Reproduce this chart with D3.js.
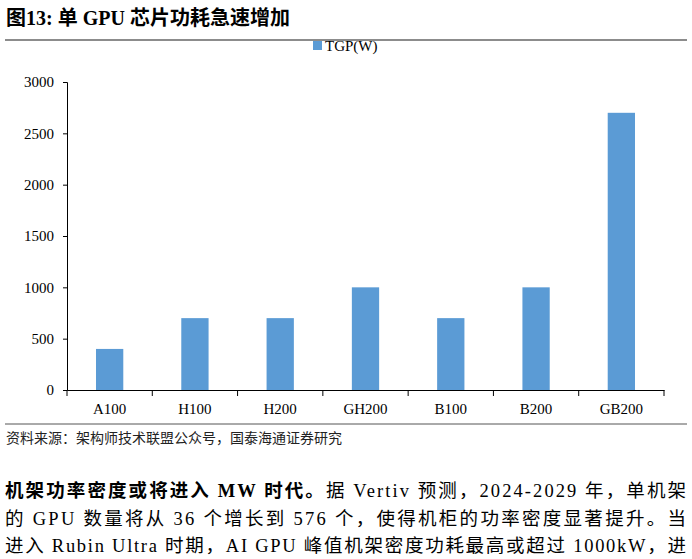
<!DOCTYPE html><html><head><meta charset="utf-8"><script src="https://cdn.jsdelivr.net/npm/d3@7"></script>
<style>body{margin:0;background:#fff}</style></head><body><svg id="c" width="692" height="559"></svg>
<script>
const categories=["A100","H100","H200","GH200","B100","B200","GB200"];
const values=[400,700,700,1000,700,1000,2700];
const yTicks=[0,500,1000,1500,2000,2500,3000];
const serif="Liberation Serif, Tinos, Times New Roman, DejaVu Serif, serif";
const cjk="Noto Sans CJK SC, sans-serif";
const svg=d3.select("#c");
svg.append("text").attr("x",6).attr("y",25).attr("font-size",20).attr("font-weight","bold").style("font-family",serif+", "+cjk).text("图13:  单 GPU 芯片功耗急速增加");
svg.append("line").attr("x1",5).attr("x2",687).attr("y1",40).attr("y2",40).attr("stroke","#8c8c8c").attr("stroke-width",2);
const x=d3.scaleBand().domain(categories).range([67,664]).paddingInner(0.68).paddingOuter(0.34);
const y=d3.scaleLinear().domain([0,3000]).range([390,82]);
svg.selectAll("rect.b").data(values).join("rect").attr("x",(d,i)=>x(categories[i])).attr("width",x.bandwidth()).attr("y",d=>y(d)).attr("height",d=>390-y(d)).attr("fill","#5b9bd5");
const ya=svg.append("g").attr("transform","translate(67,0)").call(d3.axisLeft(y).tickValues(yTicks).tickSize(4).tickFormat(d3.format("d")));
const xa=svg.append("g").attr("transform","translate(0,390)").call(d3.axisBottom(x).tickSize(0).tickPadding(13));
const xt=d3.scaleLinear().domain([0,7]).range([67,664]);
svg.selectAll("line.t").data(d3.range(8)).join("line").attr("x1",d=>xt(d)).attr("x2",d=>xt(d)).attr("y1",390).attr("y2",396).attr("stroke","#000");
[ya,xa].forEach(g=>{g.attr("font-family",null);g.selectAll("text").style("font-family",serif).attr("font-size",15).attr("fill","#000");g.select(".domain").attr("stroke","#000");g.selectAll("line").attr("stroke","#000");});
ya.selectAll("text").attr("dx",-6);
svg.append("rect").attr("x",313).attr("y",41).attr("width",9).attr("height",9).attr("fill","#5b9bd5");
svg.append("text").attr("x",325).attr("y",51).style("font-family",serif).attr("font-size",15).text("TGP(W)");
svg.append("line").attr("x1",5).attr("x2",687).attr("y1",424).attr("y2",424).attr("stroke","#555").attr("stroke-width",1);
svg.append("text").attr("x",6).attr("y",443).style("font-family",cjk).attr("font-size",14).attr("fill","#222").text("资料来源：架构师技术联盟公众号，国泰海通证券研究");
const lines=[
 [{t:"机架功率密度或将进入 MW 时代。",b:1},{t:"据 Vertiv 预测，2024-2029 年，单机架"}],
 [{t:"的 GPU 数量将从 36 个增长到 576 个，使得机柜的功率密度显著提升。当"}],
 [{t:"进入 Rubin Ultra 时期，AI GPU 峰值机架密度功耗最高或超过 1000kW，进"}]];
lines.forEach((l,i)=>{const t=svg.append("text").attr("x",5).attr("y",497+i*27.5).attr("font-size",18.5).style("font-family",serif+", "+cjk).attr("textLength",681).attr("lengthAdjust","spacing");
 l.forEach(s=>t.append("tspan").attr("font-weight",s.b?"bold":"normal").text(s.t));});
</script></body></html>
